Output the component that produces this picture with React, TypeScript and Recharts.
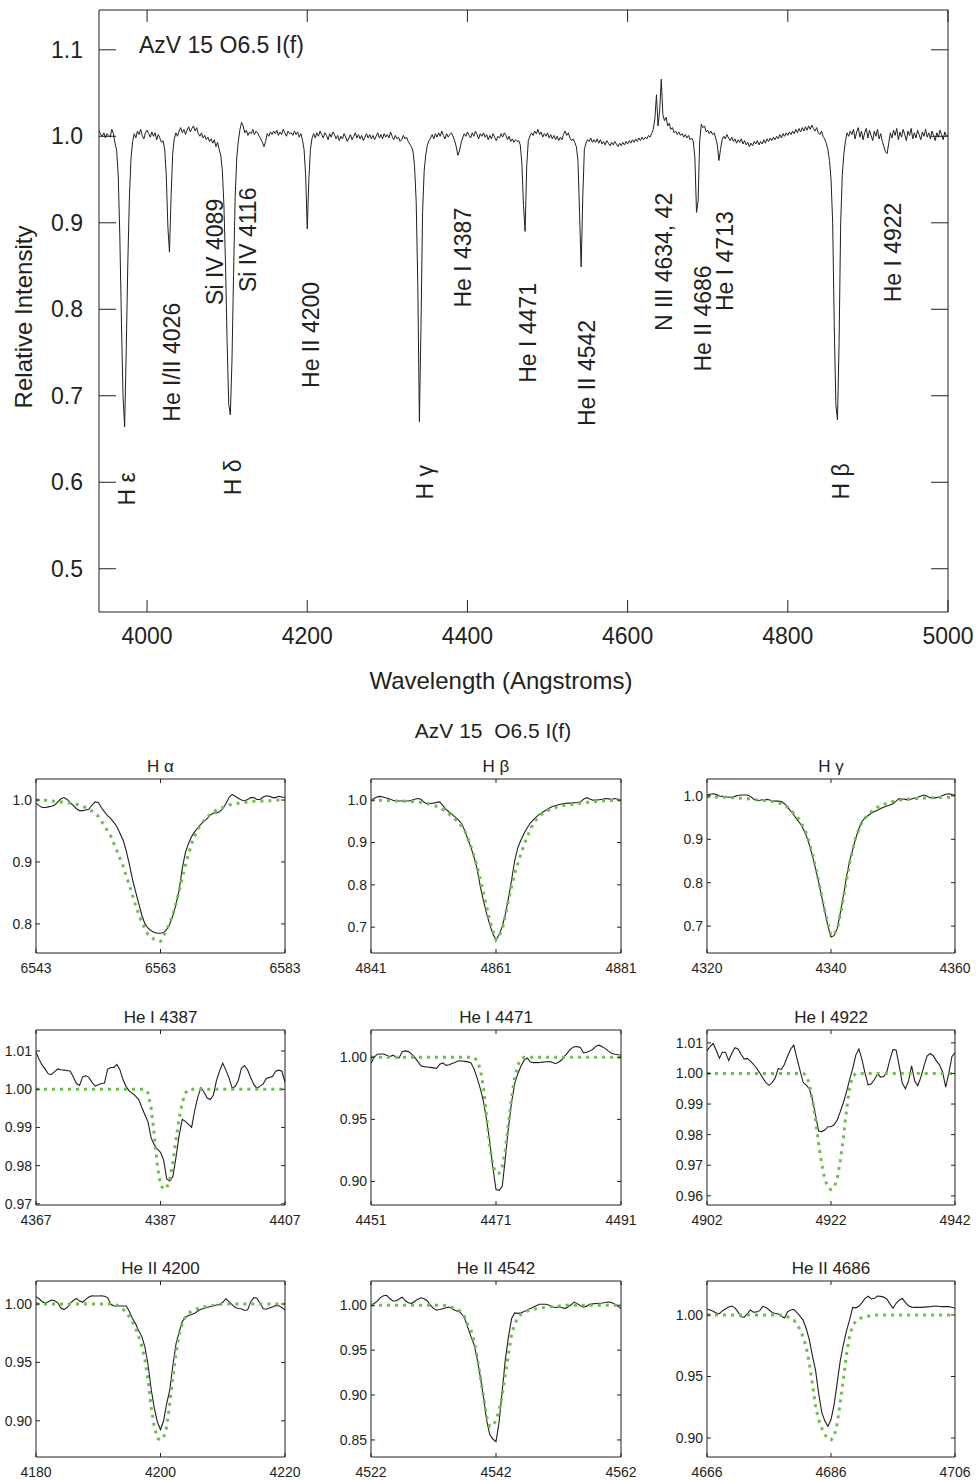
import React from 'react';
import { LineChart, Line, XAxis, YAxis, ReferenceDot } from 'recharts';

const FONT = '"Liberation Sans", Arial, Helvetica, sans-serif';
const INK = '#231f20';
const MODEL_GREEN = '#6cbf4c';
const blank = () => '';

// ---- top spectrum: relative intensity every 2 A starting at 3940 A ----
const mainStart = 3940;
const mainStep = 2;
const mainFlux = [
  1.007, 1.002, 1.000, 1.004, 0.998, 1.003, 1.001, 0.999, 1.008, 1.003,
  0.992, 0.984, 0.955, 0.885, 0.785, 0.700, 0.664, 0.752, 0.855, 0.930,
  0.975, 0.994, 1.003, 0.998, 1.006, 1.002, 1.008, 1.001, 0.997, 1.004,
  1.007, 1.003, 0.999, 1.005, 1.000, 1.004, 0.996, 1.002, 0.998, 0.993,
  0.995, 0.985, 0.955, 0.895, 0.866, 0.930, 0.980, 0.997, 1.004, 1.000,
  1.006, 1.010, 1.004, 1.008, 1.002, 1.007, 1.011, 1.005, 1.009, 1.012,
  1.006, 1.010, 1.003, 1.000, 1.004, 0.998, 1.001, 0.996, 0.999, 0.994,
  0.997, 0.992, 0.996, 0.988, 0.993, 0.985, 0.978, 0.960, 0.920, 0.850,
  0.760, 0.690, 0.678, 0.740, 0.840, 0.930, 0.975, 0.995, 1.008, 1.016,
  1.012, 1.004, 1.007, 1.001, 1.005, 1.003, 1.008, 1.002, 1.006, 1.004,
  1.000, 0.997, 0.993, 0.988, 0.994, 1.003, 1.000, 1.005, 1.002, 1.006,
  1.003, 1.007, 1.001, 1.005, 1.002, 1.008, 1.004, 1.000, 1.006, 1.003,
  1.004, 1.001, 1.006, 1.002, 1.005, 0.999, 1.003, 0.996, 0.985, 0.955,
  0.893, 0.950, 0.985, 0.998, 1.003, 0.998, 1.004, 1.000, 1.006, 1.002,
  0.998, 1.004, 1.001, 0.996, 1.003, 0.999, 1.005, 1.002, 0.997, 1.001,
  0.995, 1.000, 0.997, 1.003, 0.999, 0.994, 0.998, 1.002, 0.996, 1.000,
  1.004, 0.998, 1.002, 0.997, 1.001, 0.995, 0.999, 1.003, 0.998, 1.002,
  0.997, 1.001, 0.996, 1.000, 1.004, 0.998, 1.002, 0.997, 1.003, 0.999,
  1.002, 0.998, 1.005, 1.000, 0.996, 1.001, 0.997, 0.999, 0.994, 0.996,
  1.001, 0.997, 0.999, 0.994, 0.991, 0.988, 0.983, 0.965, 0.925, 0.830,
  0.670, 0.780, 0.912, 0.960, 0.979, 0.990, 0.995, 0.998, 1.002, 0.997,
  1.003, 0.999, 1.004, 1.000, 1.006, 1.001, 0.997, 1.003, 0.999, 1.002,
  1.004, 1.000, 0.995, 0.988, 0.978, 0.983, 0.992, 0.998, 1.003, 1.000,
  1.005, 1.001, 0.998, 1.004, 1.000, 1.006, 1.002, 0.997, 1.003, 1.000,
  1.004, 0.999, 1.002, 0.996, 1.001, 0.997, 1.003, 0.999, 0.995, 1.000,
  0.998, 1.003, 0.999, 1.004, 1.001, 0.996, 1.000, 0.994, 0.997, 0.993,
  0.996, 0.994, 0.995, 0.990, 0.968, 0.920, 0.890, 0.965, 0.995, 1.000,
  1.004, 1.001, 1.006, 1.003, 1.008, 1.002, 1.005, 0.999, 1.003, 1.000,
  1.004, 0.998, 1.002, 0.997, 1.001, 0.996, 1.000, 0.995, 0.999, 0.996,
  1.002, 1.006, 1.001, 1.004, 0.998, 0.995, 0.997, 0.993, 0.988, 0.972,
  0.910, 0.849, 0.930, 0.985, 0.992, 0.996, 0.994, 0.998, 0.993, 0.996,
  0.993, 0.997, 0.992, 0.996, 0.991, 0.994, 0.990, 0.995, 0.992, 0.989,
  0.993, 0.990, 0.994, 0.991, 0.988, 0.992, 0.989, 0.993, 0.990, 0.994,
  0.991, 0.995, 0.992, 0.996, 0.993, 0.997, 0.994, 0.998, 0.995, 0.999,
  0.996, 0.999, 0.997, 1.001, 0.999, 1.003, 1.008, 1.020, 1.048, 1.012,
  1.030, 1.066, 1.025, 1.018, 1.022, 1.012, 1.015, 1.008, 1.010, 1.004,
  1.006, 1.002, 1.005, 1.001, 1.003, 0.999, 1.002, 0.998, 1.001, 0.996,
  0.998, 0.994, 0.975, 0.912, 0.925, 0.995, 1.014, 1.010, 1.012, 1.005,
  1.007, 1.003, 1.006, 1.002, 1.004, 0.998, 0.990, 0.972, 0.985, 0.996,
  1.000, 0.997, 1.002, 0.998, 0.995, 0.999, 0.994, 0.997, 0.992, 0.996,
  0.993, 0.997, 0.991, 0.995, 0.990, 0.993, 0.988, 0.992, 0.989, 0.994,
  0.991, 0.995, 0.990, 0.994, 0.991, 0.996, 0.992, 0.997, 0.994, 0.998,
  0.995, 0.999, 0.996, 1.000, 0.997, 1.002, 0.998, 1.003, 1.000, 1.004,
  1.001, 1.005, 1.002, 1.006, 1.003, 1.008, 1.004, 1.009, 1.005, 1.010,
  1.006, 1.011, 1.007, 1.012, 1.008, 1.013, 1.009, 1.006, 1.010, 1.004,
  1.002, 1.006, 1.000, 0.997, 0.992, 0.985, 0.972, 0.950, 0.900, 0.780,
  0.690, 0.672, 0.760, 0.900, 0.955, 0.980, 0.995, 1.004, 1.000, 1.006,
  1.002, 1.008, 0.997, 1.005, 1.010, 0.999, 1.006, 0.996, 1.004, 1.009,
  0.998, 1.007, 1.001, 0.995, 1.006, 1.000, 1.008, 0.997, 1.003, 0.994,
  0.988, 0.982, 0.980, 0.992, 1.004, 0.998, 1.007, 1.001, 1.009, 0.996,
  1.005, 0.999, 1.008, 1.002, 0.995, 1.006, 1.001, 1.009, 0.997, 1.004,
  0.998, 1.007, 1.002, 0.996, 1.005, 1.000, 1.008, 0.999, 1.004, 0.997,
  1.006, 1.001, 0.995, 1.004, 0.999, 1.007, 1.002, 0.996, 1.005, 1.000,
  1.002,
];
const mainXTicks = [4000, 4200, 4400, 4600, 4800, 5000];
const mainYTicks = [0.5, 0.6, 0.7, 0.8, 0.9, 1.0, 1.1];

// line identifications: text, wavelength under the label, intensity at the label's foot
const lineIds = [
  'H ε', 'He I/II 4026', 'Si IV 4089', 'Si IV 4116', 'H δ', 'He II 4200', 'H γ', 'He I 4387',
  'He I 4471', 'He II 4542', 'N III 4634, 42', 'He II 4686', 'He I 4713', 'H β', 'He I 4922',
];
const lineIdWave = [3975, 4031, 4085, 4126, 4107.5, 4205, 4347.5, 4395, 4476, 4549, 4645, 4694, 4721, 4866, 4931];
const lineIdLevel = [0.573, 0.670, 0.805, 0.820, 0.585, 0.709, 0.580, 0.802, 0.715, 0.665, 0.775, 0.728, 0.798, 0.580, 0.808];

// ---- zoomed profiles: observed every 0.5 A, model as [wavelength, flux] ----
const haObs = [
  0.995, 0.991, 0.988, 0.988, 0.989, 0.990, 0.992, 0.997, 1.002, 1.004,
  1.001, 0.996, 0.991, 0.986, 0.983, 0.983, 0.984, 0.985, 0.992, 0.997,
  0.996, 0.988, 0.981, 0.975, 0.970, 0.964, 0.957, 0.946, 0.935, 0.918,
  0.896, 0.872, 0.852, 0.833, 0.814, 0.800, 0.793, 0.789, 0.786, 0.785,
  0.785, 0.786, 0.791, 0.800, 0.814, 0.832, 0.855, 0.890, 0.915, 0.930,
  0.941, 0.949, 0.955, 0.961, 0.966, 0.970, 0.976, 0.979, 0.979, 0.981,
  0.986, 0.994, 1.004, 1.009, 1.006, 1.003, 1.000, 0.999, 1.001, 1.004,
  1.004, 1.001, 1.001, 1.005, 1.007, 1.006, 1.004, 1.004, 1.006, 1.005,
  1.004,
];
const haModel = [
  [6543, 1.000], [6544, 1.000], [6545, 0.999], [6546, 0.998], [6547, 0.997], [6548, 0.996],
  [6549, 0.994], [6550, 0.992], [6551, 0.988], [6552, 0.982], [6553, 0.974], [6554, 0.958],
  [6555, 0.942], [6556, 0.918], [6557, 0.893], [6558, 0.862], [6559, 0.830], [6560, 0.802],
  [6561, 0.783], [6562, 0.775], [6563, 0.772], [6564, 0.790], [6565, 0.815], [6566, 0.853],
  [6567, 0.895], [6568, 0.930], [6569, 0.953], [6570, 0.967], [6571, 0.977], [6572, 0.984],
  [6573, 0.988], [6574, 0.992], [6575, 0.994], [6576, 0.996], [6577, 0.997], [6578, 0.998],
  [6579, 0.998], [6580, 0.999], [6581, 0.999], [6582, 1.000], [6583, 1.000],
];

const hbObs = [
  1.000, 1.004, 1.008, 1.009, 1.007, 1.005, 1.003, 1.000, 0.998, 0.998,
  0.998, 0.998, 0.998, 1.000, 1.002, 1.004, 1.002, 0.995, 0.991, 0.992,
  0.993, 0.995, 0.996, 0.987, 0.978, 0.972, 0.966, 0.960, 0.953, 0.945,
  0.928, 0.908, 0.888, 0.865, 0.836, 0.795, 0.762, 0.732, 0.706, 0.684,
  0.671, 0.682, 0.702, 0.730, 0.770, 0.812, 0.858, 0.888, 0.906, 0.922,
  0.935, 0.946, 0.954, 0.961, 0.967, 0.972, 0.976, 0.981, 0.985, 0.987,
  0.989, 0.991, 0.992, 0.993, 0.993, 0.994, 0.994, 0.996, 1.002, 1.006,
  1.003, 1.000, 1.000, 1.001, 1.002, 1.004, 1.003, 1.002, 1.004, 1.002,
  1.000,
];
const hbModel = [
  [4841, 1.000], [4842, 1.000], [4843, 0.999], [4844, 0.999], [4845, 0.998], [4846, 0.998],
  [4847, 0.997], [4848, 0.996], [4849, 0.995], [4850, 0.992], [4851, 0.988], [4852, 0.983],
  [4853, 0.973], [4854, 0.961], [4855, 0.948], [4856, 0.928], [4857, 0.890], [4858, 0.843],
  [4859, 0.780], [4860, 0.716], [4861, 0.670], [4862, 0.693], [4863, 0.764], [4864, 0.828],
  [4865, 0.874], [4866, 0.915], [4867, 0.946], [4868, 0.964], [4869, 0.974], [4870, 0.980],
  [4871, 0.985], [4872, 0.988], [4873, 0.990], [4874, 0.992], [4875, 0.994], [4876, 0.995],
  [4877, 0.997], [4878, 0.998], [4879, 0.999], [4880, 0.999], [4881, 1.000],
];

const hgObs = [
  1.002, 1.004, 1.005, 1.003, 1.000, 0.999, 0.998, 0.997, 0.997, 0.999,
  1.001, 1.002, 1.002, 1.002, 0.999, 0.993, 0.989, 0.990, 0.991, 0.992,
  0.991, 0.989, 0.988, 0.988, 0.987, 0.982, 0.974, 0.965, 0.956, 0.946,
  0.937, 0.925, 0.909, 0.888, 0.862, 0.833, 0.802, 0.768, 0.734, 0.700,
  0.675, 0.678, 0.694, 0.730, 0.770, 0.814, 0.850, 0.876, 0.903, 0.925,
  0.941, 0.950, 0.955, 0.960, 0.964, 0.967, 0.971, 0.974, 0.977, 0.979,
  0.982, 0.988, 0.994, 0.993, 0.992, 0.991, 0.993, 0.995, 0.997, 1.000,
  1.002, 0.999, 0.996, 0.995, 0.996, 0.998, 1.001, 1.004, 1.005, 1.003,
  1.002,
];
const hgModel = [
  [4320, 0.998], [4321, 0.998], [4322, 0.997], [4323, 0.997], [4324, 0.996], [4325, 0.995],
  [4326, 0.994], [4327, 0.993], [4328, 0.991], [4329, 0.990], [4330, 0.988], [4331, 0.986],
  [4332, 0.982], [4333, 0.974], [4334, 0.960], [4335, 0.944], [4336, 0.915], [4337, 0.868],
  [4338, 0.805], [4339, 0.735], [4340, 0.678], [4341, 0.690], [4342, 0.765], [4343, 0.845],
  [4344, 0.905], [4345, 0.940], [4346, 0.958], [4347, 0.970], [4348, 0.978], [4349, 0.983],
  [4350, 0.987], [4351, 0.990], [4352, 0.992], [4353, 0.993], [4354, 0.994], [4355, 0.995],
  [4356, 0.996], [4357, 0.996], [4358, 0.997], [4359, 0.997], [4360, 0.998],
];

const he4387Obs = [
  1.0097, 1.0078, 1.0063, 1.0052, 1.0040, 1.0039, 1.0046, 1.0053, 1.0051, 1.0050,
  1.0049, 1.0047, 1.0032, 1.0015, 1.0010, 1.0033, 1.0035, 1.0031, 1.0018, 1.0008,
  1.0012, 1.0015, 1.0016, 1.0052, 1.0057, 1.0057, 1.0065, 1.0050, 1.0024, 1.0006,
  0.9995, 0.9989, 0.9982, 0.9973, 0.9952, 0.9933, 0.9914, 0.9872, 0.9855, 0.9843,
  0.9835, 0.9815, 0.9765, 0.9760, 0.9772, 0.9823, 0.9880, 0.9921, 0.9916, 0.9908,
  0.9900, 0.9945, 0.9980, 1.0004, 0.9992, 0.9977, 0.9973, 0.9985, 1.0023, 1.0048,
  1.0068, 1.0050, 1.0030, 1.0003, 1.0007, 1.0023, 1.0055, 1.0062, 1.0050, 1.0030,
  1.0012, 1.0002, 1.0008, 1.0014, 1.0028, 1.0031, 1.0033, 1.0047, 1.0050, 1.0047,
  1.0018,
];
const he4387Model = [
  [4367, 1.0], [4384.5, 1.0], [4385, 0.999], [4385.5, 0.995], [4386, 0.988], [4386.5, 0.980],
  [4387, 0.975], [4387.5, 0.9738], [4388, 0.9742], [4388.5, 0.9765], [4389, 0.981], [4389.5, 0.987],
  [4390, 0.9925], [4390.5, 0.9965], [4391, 0.999], [4391.5, 1.0], [4407, 1.0],
];

const he4471Obs = [
  0.9952, 1.0000, 1.0025, 1.0027, 1.0027, 1.0016, 1.0005, 1.0017, 1.0003, 0.9995,
  1.0045, 1.0052, 1.0046, 1.0025, 1.0000, 0.9965, 0.9932, 0.9925, 0.9922, 0.9919,
  0.9915, 0.9911, 0.9945, 0.9955, 0.9935, 0.9940, 0.9950, 0.9960, 0.9972, 0.9970,
  0.9967, 0.9963, 0.9955, 0.9905, 0.9830, 0.9745, 0.9640, 0.9495, 0.9320, 0.9110,
  0.8935, 0.8928, 0.8960, 0.9190, 0.9440, 0.9640, 0.9790, 0.9870, 0.9930, 0.9975,
  0.9995, 0.9962, 0.9957, 0.9957, 0.9958, 0.9961, 0.9964, 0.9965, 0.9960, 0.9948,
  0.9960, 0.9978, 1.0010, 1.0040, 1.0070, 1.0085, 1.0086, 1.0080, 1.0035, 1.0040,
  1.0050, 1.0065, 1.0090, 1.0098, 1.0085, 1.0070, 1.0050, 1.0032, 1.0025, 1.0021,
  1.0019,
];
const he4471Model = [
  [4451, 1.0], [4467.5, 1.0], [4468, 0.997], [4468.5, 0.990], [4469, 0.975], [4469.5, 0.952],
  [4470, 0.929], [4470.5, 0.913], [4471, 0.9065], [4471.5, 0.9065], [4472, 0.912], [4472.5, 0.926],
  [4473, 0.947], [4473.5, 0.968], [4474, 0.984], [4474.5, 0.994], [4475, 0.9985], [4475.5, 1.0],
  [4491, 1.0],
];

const he4922Obs = [
  1.0074, 1.0088, 1.0098, 1.0075, 1.0050, 1.0070, 1.0068, 1.0042, 1.0065, 1.0084,
  1.0080, 1.0062, 1.0047, 1.0049, 1.0040, 1.0030, 1.0017, 1.0002, 0.9985, 0.9970,
  0.9961, 0.9970, 0.9985, 1.0016, 1.0013, 1.0030, 1.0057, 1.0080, 1.0092, 1.0050,
  1.0010, 0.9971, 0.9962, 0.9950, 0.9915, 0.9865, 0.9812, 0.9810, 0.9815, 0.9826,
  0.9826, 0.9832, 0.9848, 0.9875, 0.9905, 0.9940, 0.9980, 1.0016, 1.0060, 1.0080,
  1.0045, 1.0000, 0.9962, 0.9966, 0.9980, 0.9998, 0.9988, 0.9990, 1.0005, 1.0045,
  1.0078, 1.0077, 1.0025, 0.9968, 0.9950, 0.9975, 1.0025, 0.9975, 0.9960, 0.9988,
  1.0025, 1.0057, 1.0065, 1.0058, 1.0041, 1.0028, 1.0005, 0.9955, 1.0000, 1.0055,
  1.0068,
];
const he4922Model = [
  [4902, 1.0], [4917.5, 1.0], [4918, 0.9995], [4918.5, 0.9965], [4919, 0.9915], [4919.5, 0.985],
  [4920, 0.977], [4920.5, 0.9705], [4921, 0.9655], [4921.5, 0.9628], [4922, 0.962], [4922.5, 0.9628],
  [4923, 0.9655], [4923.5, 0.9715], [4924, 0.979], [4924.5, 0.988], [4925, 0.9955], [4925.5, 0.999],
  [4926, 1.0], [4942, 1.0],
];

const he4200Obs = [
  1.0063, 1.0045, 1.0020, 1.0008, 1.0020, 1.0034, 1.0028, 1.0010, 0.9965, 0.9952,
  0.9970, 1.0005, 1.0030, 1.0048, 1.0025, 1.0015, 1.0040, 1.0060, 1.0070, 1.0069,
  1.0069, 1.0071, 1.0067, 1.0055, 1.0000, 0.9983, 0.9983, 0.9983, 0.9983, 0.9983,
  0.9935, 0.9875, 0.9830, 0.9770, 0.9721, 0.9630, 0.9480, 0.9270, 0.9110, 0.8990,
  0.8923, 0.9000, 0.9150, 0.9265, 0.9480, 0.9660, 0.9760, 0.9850, 0.9885, 0.9902,
  0.9910, 0.9920, 0.9940, 0.9955, 0.9963, 0.9970, 0.9978, 0.9985, 0.9991, 0.9996,
  1.0015, 1.0045, 1.0020, 0.9995, 0.9970, 0.9962, 0.9960, 0.9945, 0.9950, 1.0020,
  1.0055, 1.0050, 1.0005, 0.9960, 0.9955, 0.9965, 0.9975, 0.9988, 0.9985, 0.9970,
  0.9949,
];
const he4200Model = [
  [4180, 1.0], [4192.5, 1.0], [4193, 0.999], [4193.5, 0.9977], [4194, 0.9955], [4194.5, 0.9925],
  [4195, 0.989], [4195.5, 0.9845], [4196, 0.9795], [4196.5, 0.972], [4197, 0.964], [4197.5, 0.952],
  [4198, 0.935], [4198.5, 0.912], [4199, 0.895], [4199.5, 0.885], [4200, 0.8835], [4200.5, 0.8855],
  [4201, 0.895], [4201.5, 0.915], [4202, 0.938], [4202.5, 0.958], [4203, 0.974], [4203.5, 0.9835],
  [4204, 0.989], [4204.5, 0.992], [4205, 0.994], [4206, 0.9962], [4207, 0.9975], [4208, 0.9985],
  [4209, 0.9991], [4210, 1.0], [4220, 1.0],
];

const he4542Obs = [
  1.0000, 1.0020, 1.0045, 1.0085, 1.0105, 1.0111, 1.0075, 1.0048, 1.0048, 1.0070,
  1.0090, 1.0050, 1.0028, 1.0019, 1.0045, 1.0068, 1.0083, 1.0072, 1.0050, 1.0000,
  0.9965, 0.9944, 0.9952, 0.9962, 0.9972, 0.9980, 0.9962, 0.9942, 0.9932, 0.9905,
  0.9852, 0.9750, 0.9650, 0.9560, 0.9400, 0.9200, 0.8981, 0.8720, 0.8560, 0.8510,
  0.8481, 0.8700, 0.9050, 0.9400, 0.9650, 0.9852, 0.9915, 0.9910, 0.9915, 0.9930,
  0.9946, 0.9965, 0.9981, 0.9998, 1.0011, 1.0011, 1.0011, 1.0000, 0.9980, 0.9975,
  0.9980, 0.9975, 0.9963, 0.9980, 1.0005, 1.0035, 1.0018, 0.9995, 0.9978, 0.9990,
  1.0011, 1.0015, 1.0019, 1.0022, 1.0025, 1.0030, 1.0036, 1.0030, 1.0011, 0.9990,
  0.9963,
];
const he4542Model = [
  [4522, 1.0], [4533.5, 1.0], [4534, 0.9995], [4535, 0.9975], [4536, 0.9948], [4536.5, 0.992],
  [4537, 0.9865], [4537.5, 0.978], [4538, 0.972], [4538.5, 0.960], [4539, 0.942], [4539.5, 0.920],
  [4540, 0.898], [4540.5, 0.876], [4541, 0.865], [4541.5, 0.866], [4542, 0.872], [4542.5, 0.883],
  [4543, 0.900], [4543.5, 0.924], [4544, 0.946], [4544.5, 0.968], [4545, 0.979], [4545.5, 0.986],
  [4546, 0.990], [4547, 0.9935], [4548, 0.9955], [4549, 0.9968], [4550, 0.9978], [4551, 0.9985],
  [4552, 0.999], [4553, 1.0], [4562, 1.0],
];

const he4686Obs = [
  1.0046, 1.0040, 1.0030, 1.0015, 1.0010, 1.0035, 1.0050, 1.0065, 1.0072, 1.0058,
  1.0025, 0.9985, 0.9982, 1.0010, 1.0040, 1.0022, 1.0025, 1.0035, 1.0070, 1.0060,
  1.0042, 1.0020, 1.0012, 1.0008, 0.9990, 0.9975, 1.0025, 1.0040, 1.0046, 1.0020,
  0.9990, 0.9958, 0.9890, 0.9800, 0.9670, 0.9554, 0.9365, 0.9210, 0.9140, 0.9095,
  0.9150, 0.9270, 0.9450, 0.9630, 0.9760, 0.9870, 0.9960, 1.0062, 1.0058, 1.0070,
  1.0100, 1.0135, 1.0152, 1.0130, 1.0135, 1.0154, 1.0151, 1.0145, 1.0130, 1.0090,
  1.0054, 1.0095, 1.0120, 1.0135, 1.0100, 1.0075, 1.0064, 1.0062, 1.0062, 1.0062,
  1.0064, 1.0066, 1.0068, 1.0071, 1.0073, 1.0069, 1.0068, 1.0068, 1.0068, 1.0062,
  1.0054,
];
const he4686Model = [
  [4666, 1.0], [4678.5, 1.0], [4679, 0.9985], [4679.5, 0.9975], [4680, 0.996], [4680.5, 0.9925],
  [4681, 0.988], [4681.5, 0.982], [4682, 0.974], [4682.5, 0.961], [4683, 0.944], [4683.5, 0.926],
  [4684, 0.915], [4684.5, 0.908], [4685, 0.903], [4685.5, 0.899], [4686, 0.8985], [4686.5, 0.901],
  [4687, 0.912], [4687.5, 0.929], [4688, 0.948], [4688.5, 0.968], [4689, 0.983], [4689.5, 0.991],
  [4690, 0.995], [4690.5, 0.9968], [4691, 0.9978], [4692, 0.999], [4693, 1.0], [4706, 1.0],
];

const panelTitles = ['H α', 'H β', 'H γ', 'He I 4387', 'He I 4471', 'He I 4922', 'He II 4200', 'He II 4542', 'He II 4686'];
const panelStart = [6543, 4841, 4320, 4367, 4451, 4902, 4180, 4522, 4666];
const panelYTicks = [
  [0.8, 0.9, 1.0], [0.7, 0.8, 0.9, 1.0], [0.7, 0.8, 0.9, 1.0],
  [0.97, 0.98, 0.99, 1.0, 1.01], [0.9, 0.95, 1.0], [0.96, 0.97, 0.98, 0.99, 1.0, 1.01],
  [0.9, 0.95, 1.0], [0.85, 0.9, 0.95, 1.0], [0.9, 0.95, 1.0],
];
const panelObs = [haObs, hbObs, hgObs, he4387Obs, he4471Obs, he4922Obs, he4200Obs, he4542Obs, he4686Obs];
const panelModel = [haModel, hbModel, hgModel, he4387Model, he4471Model, he4922Model, he4200Model, he4542Model, he4686Model];

// layout of the 3x3 grid (plot areas, px)
const colLeft = [36, 371, 707];
const colWidth = [249, 250, 248];
const rowTop = [779, 1030, 1281];
const rowHeight = [174, 175, 176];
const panelYRange = [
  [0.753, 1.034], [0.639, 1.05], [0.638, 1.039],
  [0.9697, 1.0155], [0.881, 1.022], [0.957, 1.0142],
  [0.869, 1.0197], [0.831, 1.027], [0.8846, 1.0276],
];

function MainSpectrum() {
  const data = mainFlux.map((f, i) => ({ w: mainStart + i * mainStep, f }));
  // top / right axes are 1px thick so recharts still draws them (frame + inner ticks)
  return (
    <div style={{ position: 'absolute', left: 0, top: 0 }}>
      <LineChart width={977} height={700} data={data} margin={{ top: 9, right: 28, bottom: 0, left: 0 }}>
        <XAxis xAxisId="b" dataKey="w" type="number" domain={[3940, 5000]} ticks={mainXTicks} allowDataOverflow
          interval={0} height={88} tickSize={-12} tickMargin={28} stroke={INK} tick={{ fontSize: 23, fill: INK }} />
        <XAxis xAxisId="t" orientation="top" dataKey="w" type="number" domain={[3940, 5000]} ticks={mainXTicks}
          allowDataOverflow interval={0} height={1} tickSize={-12} tickFormatter={blank} stroke={INK} />
        <YAxis yAxisId="l" type="number" domain={[0.45, 1.146]} ticks={mainYTicks} allowDataOverflow interval={0}
          width={99} tickSize={-17} tickMargin={33} tickFormatter={(v: number) => v.toFixed(1)}
          stroke={INK} tick={{ fontSize: 23, fill: INK }} />
        <YAxis yAxisId="r" orientation="right" type="number" domain={[0.45, 1.146]} ticks={mainYTicks}
          allowDataOverflow interval={0} width={1} tickSize={-17} tickFormatter={blank} stroke={INK} />
        <Line xAxisId="b" yAxisId="l" dataKey="f" stroke={INK} strokeWidth={1} dot={false} isAnimationActive={false} />
        {lineIds.map((name, i) => (
          <ReferenceDot key={name} xAxisId="b" yAxisId="l" x={lineIdWave[i]} y={lineIdLevel[i]} r={0}
            shape={(props: any) => (
              <text transform={`translate(${props.cx},${props.cy}) rotate(-90)`} textAnchor="start"
                dominantBaseline="central" fontSize={23} fill={INK}>{name}</text>
            )} />
        ))}
      </LineChart>
    </div>
  );
}

function Panel({ idx }: { idx: number }) {
  const col = idx % 3;
  const row = Math.floor(idx / 3);
  const start = panelStart[idx];
  const xDomain = [start, start + 40];
  const xTicks = [start, start + 20, start + 40];
  const yDomain = panelYRange[idx];
  const yTicks = panelYTicks[idx];
  const dec = idx < 3 ? 1 : 2;
  const obsData = panelObs[idx].map((f, i) => ({ w: start + i * 0.5, f }));
  const modelData = panelModel[idx].map(([w, f]) => ({ w, f }));
  const padL = 36, padT = 4, padR = 24, padB = 30;
  return (
    <div style={{ position: 'absolute', left: colLeft[col] - padL, top: rowTop[row] - padT }}>
      <LineChart width={colWidth[col] + padL + padR} height={rowHeight[row] + padT + padB}
        margin={{ top: padT - 1, right: padR - 1, bottom: 0, left: 0 }}>
        <XAxis xAxisId="b" dataKey="w" type="number" domain={xDomain} ticks={xTicks} allowDataOverflow interval={0}
          height={padB} tickSize={-4} tickMargin={14} stroke={INK} tick={{ fontSize: 14, fill: INK }} />
        <XAxis xAxisId="t" orientation="top" dataKey="w" type="number" domain={xDomain} ticks={xTicks}
          allowDataOverflow interval={0} height={1} tickSize={-4} tickFormatter={blank} stroke={INK} />
        <YAxis yAxisId="l" type="number" domain={yDomain} ticks={yTicks} allowDataOverflow interval={0}
          width={padL} tickSize={-4} tickMargin={8} tickFormatter={(v: number) => v.toFixed(dec)}
          stroke={INK} tick={{ fontSize: 14, fill: INK }} />
        <YAxis yAxisId="r" orientation="right" type="number" domain={yDomain} ticks={yTicks} allowDataOverflow
          interval={0} width={1} tickSize={-4} tickFormatter={blank} stroke={INK} />
        <Line xAxisId="b" yAxisId="l" data={obsData} dataKey="f" stroke={INK} strokeWidth={1.1} dot={false}
          isAnimationActive={false} />
        <Line xAxisId="b" yAxisId="l" data={modelData} dataKey="f" stroke={MODEL_GREEN} strokeWidth={3}
          strokeDasharray="3 5" dot={false} isAnimationActive={false} />
      </LineChart>
    </div>
  );
}

export default function App() {
  return (
    <div style={{ position: 'absolute', left: 0, top: 0, width: 977, height: 1480, background: '#fff', fontFamily: FONT, color: INK }}>
      <MainSpectrum />
      {panelTitles.map((t, i) => <Panel key={t} idx={i} />)}
      <svg width={977} height={1480} style={{ position: 'absolute', left: 0, top: 0, pointerEvents: 'none' }}
        fontFamily={FONT} fill={INK}>
        <text x={139} y={53} fontSize={23}>AzV 15 O6.5 I(f)</text>
        <text transform="translate(32,317) rotate(-90)" textAnchor="middle" fontSize={24}>Relative Intensity</text>
        <text x={501} y={689} textAnchor="middle" fontSize={24}>Wavelength (Angstroms)</text>
        <text x={493} y={738} textAnchor="middle" fontSize={21} style={{ whiteSpace: 'pre' }}>AzV 15  O6.5 I(f)</text>
        {panelTitles.map((t, i) => {
          const col = i % 3;
          const row = Math.floor(i / 3);
          return (
            <text key={t} x={colLeft[col] + colWidth[col] / 2} y={rowTop[row] - 7} textAnchor="middle" fontSize={17}>{t}</text>
          );
        })}
      </svg>
    </div>
  );
}
